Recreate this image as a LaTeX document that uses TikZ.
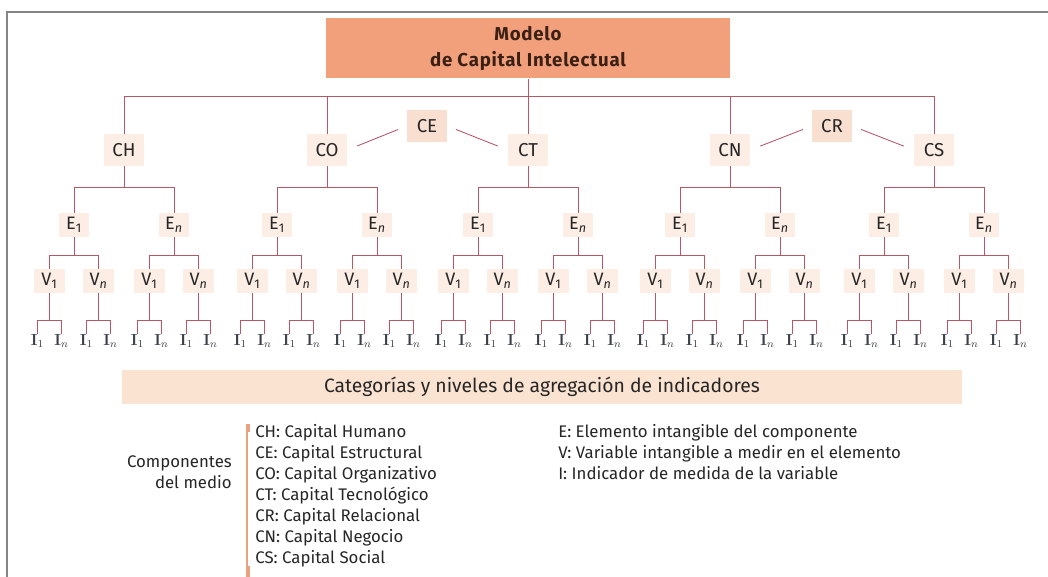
\documentclass[tikz,border=0pt]{standalone}
\usepackage[no-math]{fontspec}
\setmainfont{Fira Sans}
\usetikzlibrary{calc}
\definecolor{lnc}{HTML}{B65766}
\definecolor{titlefill}{HTML}{F2A07C}
\definecolor{titletext}{HTML}{3B2015}
\definecolor{compfill}{HTML}{FCEDE5}
\definecolor{compdark}{HTML}{F9DFD0}
\definecolor{bannerfill}{HTML}{FBE3D2}
\definecolor{txt}{HTML}{262626}
\definecolor{indtxt}{HTML}{3A3F4A}
\definecolor{barc}{HTML}{E9A27E}
\definecolor{framec}{HTML}{858585}
\tikzset{
  link/.style={draw=lnc, line width=0.65pt},
  titlebox/.style={fill=titlefill, minimum width=303pt, minimum height=45pt, inner sep=0pt, align=center, text=titletext, font=\fontsize{14}{20}\selectfont\bfseries\addfontfeatures{LetterSpace=4}},
  comp/.style={fill=compfill, minimum width=30pt, minimum height=24pt, inner sep=0pt, text=txt, font=\fontsize{14}{16}\selectfont},
  compd/.style={comp, fill=compdark},
  elem/.style={fill=compfill, minimum width=23pt, minimum height=18pt, inner sep=0pt, text=txt, font=\fontsize{13.5}{15}\selectfont},
  ind/.style={inner sep=0pt, text=indtxt, font=\fontsize{12}{14}\selectfont, anchor=north},
  banner/.style={fill=bannerfill, minimum width=630pt, minimum height=25.5pt, inner sep=0pt, text=txt, font=\fontsize{14.5}{17}\selectfont},
  legend/.style={inner sep=0pt, text=txt, align=left, font=\fontsize{12.6}{15.75}\selectfont}
}
\begin{document}
\begin{tikzpicture}[x=0.75pt,y=-0.75pt]
\useasboundingbox (0,0) rectangle (1048,577);
\draw[framec, line width=1.3pt] (7,578) -- (7,12) -- (1049,12);

% title
\node[titlebox] (M) at (528,48.5) {Modelo\\de Capital Intelectual};

% level 1
\foreach \n/\x in {CH/124,CO/327,CT/528,CN/730,CS/934}{
  \node[comp] (\n) at (\x,150) {\n};
}
\node[compd] (CE) at (427,126) {CE};
\node[compd] (CR) at (832,126) {CR};

\coordinate (bus) at (0,96);
\draw[link] (CH.north) -- (CH.north |- bus) -- (CS.north |- bus) -- (CS.north);
\draw[link] (CO.north) -- (CO.north |- bus);
\draw[link] (CN.north) -- (CN.north |- bus);
\draw[link] (M.south) -- (CT.north);

\draw[link, shorten <=8pt, shorten >=7pt] (CO.east) -- (CE.west);
\draw[link, shorten <=7pt, shorten >=8pt] (CE.east) -- (CT.west);
\draw[link, shorten <=8pt, shorten >=7pt] (CN.east) -- (CR.west);
\draw[link, shorten <=7pt, shorten >=8pt] (CR.east) -- (CS.west);

% lower levels
\foreach \g/\x in {CH/124,CO/327,CT/528,CN/730,CS/934}{
  \foreach \s/\dx/\lab in {1/-50/1,n/50/{\itshape n}}{
    \pgfmathsetmacro\ex{\x+(\dx)}
    \node[elem] (\g-E\s) at (\ex,225) {E\textsubscript{\lab}};
    \draw[link] (\g.south) -- (\g.south |- 0,187) -| (\g-E\s.north);
    \foreach \t/\dv/\labv in {1/-24.5/1,n/24.5/{\itshape n}}{
      \pgfmathsetmacro\vx{\ex+(\dv)}
      \node[elem] (\g-E\s-V\t) at (\vx,281) {V\textsubscript{\labv}};
      \draw[link] (\g-E\s.south) -- (\g-E\s.south |- 0,255) -| (\g-E\s-V\t.north);
      \foreach \u/\di in {1/-12,n/12}{
        \pgfmathsetmacro\ix{\vx+(\di)}
        \node[ind] (\g-E\s-V\t-I\u) at (\ix,334) {$\mathbf{I}_{\u}$};
        \draw[link] (\g-E\s-V\t.south) -- (\g-E\s-V\t.south |- 0,320) -| (\g-E\s-V\t-I\u.north);
      }
    }
  }
}

% banner
\node[banner] (B) at (542,386.5) {Categorías y niveles de agregación de indicadores};

% legend
\node[legend, anchor=east, align=right] (Comp) at (232,472) {Componentes\\del medio};
\node[legend, anchor=north west] (L1) at (255,424) {CH: Capital Humano\\CE: Capital Estructural\\CO: Capital Organizativo\\CT: Capital Tecnológico\\CR: Capital Relacional\\CN: Capital Negocio\\CS: Capital Social};
\node[legend, anchor=north west] (L2) at (558,424) {E: Elemento intangible del componente\\V: Variable intangible a medir en el elemento\\I: Indicador de medida de la variable};
\draw[barc, line width=1.6pt] (247,425) -- (247,577);
\fill[barc] (245.5,424) rectangle (250,432);
\fill[barc] (245.5,566) rectangle (250,577);
\end{tikzpicture}
\end{document}
